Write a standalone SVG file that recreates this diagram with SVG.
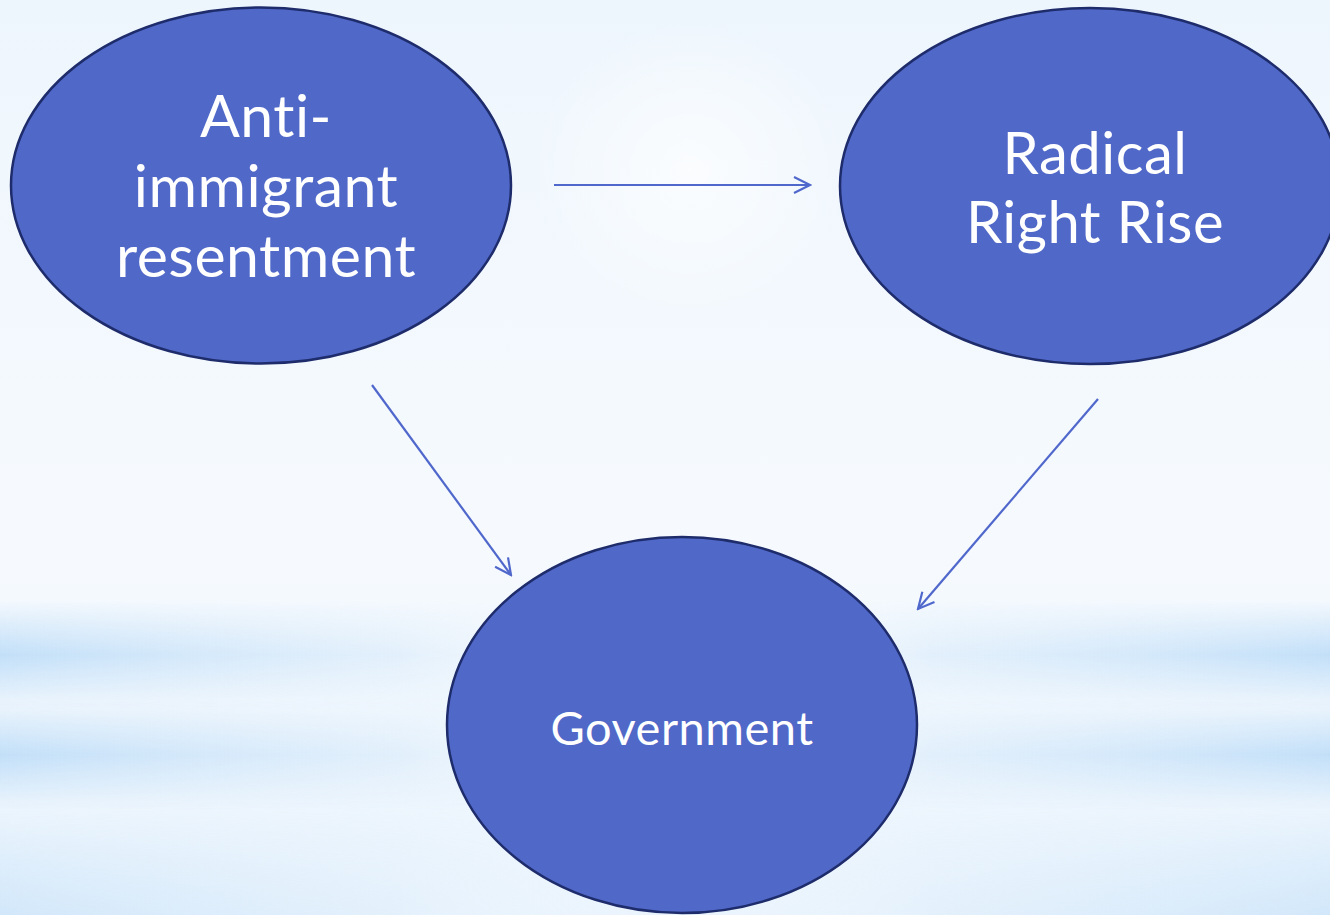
<svg xmlns="http://www.w3.org/2000/svg" width="1330" height="915" viewBox="0 0 1330 915">
<defs>
<linearGradient id="bgv" x1="0" y1="0" x2="0" y2="1">
<stop offset="0" stop-color="#EEF6FD"/>
<stop offset="0.6" stop-color="#F6FAFE"/>
<stop offset="1" stop-color="#EAF4FD"/>
</linearGradient>
<linearGradient id="bandh" x1="0" y1="0" x2="1" y2="0">
<stop offset="0" stop-color="#C2DFF8" stop-opacity="1"/>
<stop offset="0.3" stop-color="#D8EAFA" stop-opacity="0.6"/>
<stop offset="0.5" stop-color="#FFFFFF" stop-opacity="0"/>
<stop offset="0.7" stop-color="#D8EAFA" stop-opacity="0.6"/>
<stop offset="1" stop-color="#C2DFF8" stop-opacity="1"/>
</linearGradient>
<linearGradient id="bandmask" x1="0" y1="0" x2="0" y2="1">
<stop offset="0" stop-color="#fff" stop-opacity="0"/>
<stop offset="0.5" stop-color="#fff" stop-opacity="1"/>
<stop offset="1" stop-color="#fff" stop-opacity="0"/>
</linearGradient>
<mask id="m1"><rect x="0" y="600" width="1330" height="110" fill="url(#bandmask)"/></mask>
<mask id="m2"><rect x="0" y="700" width="1330" height="110" fill="url(#bandmask)"/></mask>
<mask id="m3"><rect x="0" y="800" width="1330" height="230" fill="url(#bandmask)"/></mask>
<radialGradient id="glow" cx="0.5" cy="0.5" r="0.5">
<stop offset="0" stop-color="#FFFFFF" stop-opacity="1"/>
<stop offset="1" stop-color="#FFFFFF" stop-opacity="0"/>
</radialGradient>
<marker id="arr" viewBox="0 0 20 20" refX="18" refY="10" markerWidth="20" markerHeight="20" markerUnits="userSpaceOnUse" orient="auto">
<path d="M2,2 L18,10 L2,18" fill="none" stroke="#5068CC" stroke-width="2.2"/>
</marker>
<style>
.node{fill:#5068C8;stroke:#1E2C6B;stroke-width:2.5}
.lbl{font-family:Lato,"Open Sans","Liberation Sans",sans-serif;fill:#FFFFFF;text-anchor:middle;font-variant-ligatures:none;font-feature-settings:"liga" 0;letter-spacing:0.5px}
.conn{stroke:#5068CC;stroke-width:2.2;fill:none;marker-end:url(#arr)}
</style>
</defs>
<g id="background">
<rect width="1330" height="915" fill="url(#bgv)"/>
<rect x="0" y="600" width="1330" height="110" fill="url(#bandh)" mask="url(#m1)"/>
<rect x="0" y="700" width="1330" height="110" fill="url(#bandh)" mask="url(#m2)"/>
<rect x="0" y="800" width="1330" height="230" fill="url(#bandh)" mask="url(#m3)" opacity="0.6"/>
<ellipse cx="690" cy="170" rx="160" ry="150" fill="url(#glow)" opacity="0.7"/>
</g>
<g id="connectors">
<line class="conn" x1="554" y1="185" x2="810" y2="185"/>
<line class="conn" x1="372" y1="385" x2="511" y2="575"/>
<line class="conn" x1="1098" y1="399" x2="918" y2="609"/>
</g>
<g id="node-anti">
<ellipse class="node" cx="261" cy="185.5" rx="250" ry="178"/>
<text class="lbl" font-size="59"><tspan x="266" y="137">Anti-</tspan><tspan x="266" y="207">immigrant</tspan><tspan x="266" y="277">resentment</tspan></text>
</g>
<g id="node-radical">
<ellipse class="node" cx="1090" cy="186" rx="250" ry="178"/>
<text class="lbl" font-size="58"><tspan x="1095" y="174">Radical</tspan><tspan x="1095" y="243">Right Rise</tspan></text>
</g>
<g id="node-government">
<ellipse class="node" cx="682" cy="725" rx="235" ry="188"/>
<text class="lbl" font-size="47" x="682" y="745">Government</text>
</g>
</svg>
